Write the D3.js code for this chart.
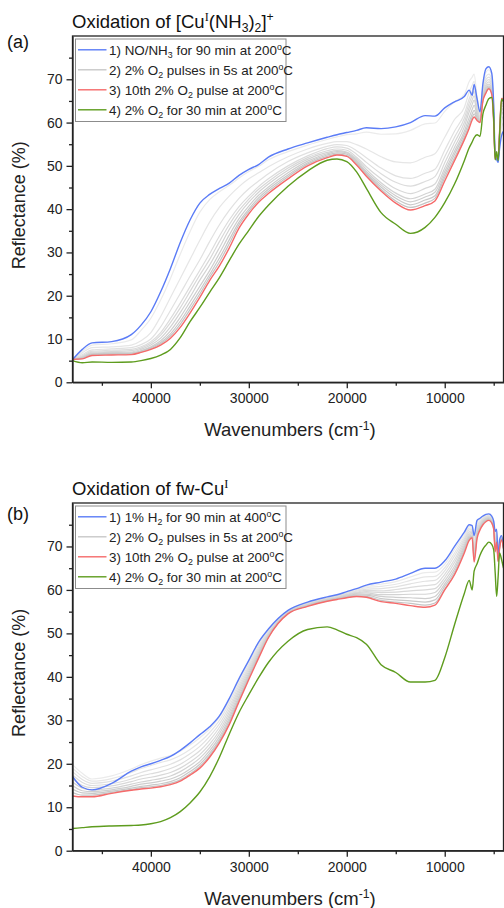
<!DOCTYPE html>
<html>
<head>
<meta charset="utf-8">
<script src="https://cdn.jsdelivr.net/npm/d3@7"></script>
<style>
  body { margin: 0; background: #fff; }
  svg { display: block; font-family: "Liberation Sans", Arial, sans-serif; }
  text { white-space: pre; }
</style>
</head>
<body>
<svg id="chart" width="504" height="908"></svg>
<script>
// shared wavenumber grid (cm-1)
const wavenumbers = [48000, 47000, 46000, 44000, 42000, 41000, 40000, 39000, 38000, 37000,
  36000, 35000, 34000, 33000, 32000, 31000, 30000, 29000, 28000, 26000,
  24000, 22000, 21000, 20000, 19000, 18000, 16500, 15000, 13500, 12000,
  11000, 10000, 9000, 8000, 7500, 7200, 7000, 6700, 6400, 6100,
  5800, 5500, 5200, 5000, 4850, 4700, 4550, 4400, 4200, 4000]

// panel (a)
const aBlue = [5.2, 7.6, 9.1, 9.4, 11.0, 13.2, 16.3, 20.9, 26.3, 32.3,
  37.5, 41.4, 43.4, 44.8, 46.0, 47.8, 49.2, 50.3, 52.0, 53.9,
  55.3, 56.6, 57.2, 57.7, 58.2, 58.8, 58.6, 59.0, 60.0, 61.6,
  61.5, 63.4, 64.8, 66.0, 67.5, 66.3, 68.8, 65.5, 62.5, 69.0,
  72.4, 72.9, 71.4, 64.0, 52.5, 51.5, 50.8, 54.0, 57.0, 58.0]
const aRed = [5.3, 5.4, 6.2, 6.3, 6.4, 6.9, 7.6, 8.6, 10.2, 12.7,
  16.0, 19.6, 23.5, 26.9, 31.0, 35.6, 38.9, 41.6, 43.6, 47.0,
  50.0, 51.9, 52.5, 52.2, 50.2, 47.6, 44.2, 41.4, 39.8, 40.8,
  41.9, 46.5, 51.2, 56.0, 58.7, 60.6, 61.3, 60.5, 60.0, 65.0,
  66.8, 67.8, 66.5, 60.0, 51.5, 52.5, 51.5, 58.0, 65.6, 65.5]
const aGreen = [5.0, 4.5, 4.7, 4.6, 4.7, 5.0, 5.5, 6.3, 7.6, 10.3,
  14.0, 17.3, 20.8, 24.2, 28.1, 31.9, 35.1, 38.3, 40.9, 45.3,
  48.8, 51.3, 51.6, 51.0, 48.6, 44.8, 39.2, 36.5, 34.4, 35.8,
  38.1, 41.5, 45.8, 51.2, 54.2, 55.5, 56.5, 57.2, 56.8, 62.0,
  64.0, 65.5, 65.8, 61.0, 51.4, 53.3, 51.2, 57.0, 65.4, 64.8]
// O2 pulses 1..9, one row per wavenumber
const aPulseRows = [
  [5.3, 5.3, 5.3, 5.3, 5.3, 5.3, 5.3, 5.3, 5.3],
  [7.2, 6.8, 6.4, 6.1, 5.9, 5.8, 5.7, 5.6, 5.5],
  [8.6, 8.0, 7.5, 7.2, 7.0, 6.8, 6.6, 6.5, 6.4],
  [8.9, 8.2, 7.7, 7.4, 7.1, 6.9, 6.7, 6.6, 6.5],
  [9.8, 8.6, 8.0, 7.6, 7.3, 7.0, 6.8, 6.7, 6.5],
  [12.0, 9.6, 8.7, 8.2, 7.9, 7.6, 7.3, 7.2, 7.0],
  [14.8, 11.5, 10.0, 9.4, 9.0, 8.6, 8.2, 8.0, 7.8],
  [19.0, 15.2, 12.8, 11.5, 10.9, 10.2, 9.6, 9.2, 8.9],
  [24.0, 19.6, 16.6, 14.7, 13.8, 12.8, 11.9, 11.2, 10.7],
  [29.6, 24.0, 20.5, 18.3, 17.2, 16.1, 15.0, 14.1, 13.4],
  [34.8, 28.4, 24.5, 22.1, 21.0, 19.7, 18.6, 17.6, 16.8],
  [39.3, 32.8, 28.3, 25.9, 24.8, 23.6, 22.2, 21.2, 20.4],
  [42.2, 37.0, 32.5, 29.7, 28.4, 27.1, 25.8, 24.9, 24.2],
  [44.0, 40.4, 36.4, 33.8, 32.5, 31.1, 29.8, 28.7, 27.8],
  [45.5, 43.0, 39.7, 37.5, 36.4, 35.3, 34.0, 32.9, 32.0],
  [47.2, 45.2, 42.5, 40.6, 39.7, 38.8, 37.8, 37.0, 36.4],
  [48.7, 47.0, 44.7, 43.0, 42.3, 41.6, 40.7, 40.0, 39.5],
  [49.9, 48.4, 46.5, 45.2, 44.6, 43.9, 43.2, 42.6, 42.1],
  [51.4, 49.8, 48.2, 47.0, 46.4, 45.8, 45.1, 44.6, 44.1],
  [53.3, 52.1, 51.0, 50.0, 49.5, 49.0, 48.4, 47.9, 47.5],
  [54.8, 53.9, 53.0, 52.3, 51.9, 51.5, 51.1, 50.7, 50.4],
  [56.1, 55.2, 54.5, 54.0, 53.5, 53.1, 52.8, 52.5, 52.2],
  [56.7, 55.6, 54.9, 54.4, 53.9, 53.5, 53.3, 53.0, 52.7],
  [57.2, 55.6, 54.7, 54.1, 53.6, 53.2, 53.0, 52.7, 52.4],
  [57.4, 54.9, 53.5, 52.7, 52.0, 51.6, 51.2, 50.9, 50.6],
  [57.8, 53.9, 51.9, 50.8, 49.8, 49.2, 48.7, 48.3, 48.0],
  [57.3, 52.1, 49.5, 48.2, 47.0, 46.1, 45.6, 45.1, 44.6],
  [57.4, 50.9, 47.7, 46.2, 44.7, 43.7, 43.1, 42.5, 41.9],
  [58.2, 50.7, 47.1, 45.3, 43.6, 42.4, 41.7, 41.0, 40.4],
  [59.7, 52.0, 48.3, 46.4, 44.8, 43.5, 42.8, 42.1, 41.4],
  [59.9, 52.8, 49.2, 47.5, 45.8, 44.6, 43.9, 43.1, 42.5],
  [62.6, 56.6, 53.6, 52.1, 50.7, 49.5, 48.7, 48.0, 47.3],
  [64.8, 60.7, 58.0, 56.6, 55.4, 54.3, 53.4, 52.7, 51.9],
  [66.5, 63.5, 62.0, 61.0, 60.0, 59.0, 58.0, 57.3, 56.6],
  [69.5, 67.0, 65.5, 64.5, 63.5, 62.5, 61.2, 60.2, 59.4],
  [70.5, 68.6, 67.2, 66.2, 65.2, 64.2, 63.0, 62.0, 61.2],
  [71.2, 69.5, 68.2, 67.2, 66.2, 65.2, 64.0, 62.8, 62.0],
  [66.0, 65.0, 64.3, 63.6, 63.0, 62.4, 61.8, 61.2, 60.8],
  [62.5, 62.0, 61.5, 61.2, 60.8, 60.6, 60.4, 60.2, 60.1],
  [68.5, 68.0, 67.5, 67.0, 66.6, 66.2, 65.8, 65.5, 65.2],
  [71.6, 70.6, 69.9, 69.3, 68.7, 68.2, 67.8, 67.4, 67.1],
  [72.2, 71.2, 70.5, 69.9, 69.4, 68.9, 68.5, 68.2, 68.0],
  [70.8, 70.0, 69.4, 68.8, 68.3, 67.8, 67.4, 67.0, 66.7],
  [63.5, 63.0, 62.5, 62.0, 61.6, 61.2, 60.8, 60.5, 60.2],
  [52.3, 52.2, 52.0, 51.9, 51.8, 51.7, 51.6, 51.6, 51.5],
  [51.8, 52.0, 52.1, 52.2, 52.3, 52.3, 52.4, 52.4, 52.5],
  [51.0, 51.1, 51.2, 51.3, 51.3, 51.4, 51.4, 51.5, 51.5],
  [55.0, 55.5, 56.0, 56.4, 56.8, 57.1, 57.4, 57.7, 57.9],
  [59.0, 60.5, 61.8, 62.8, 63.5, 64.1, 64.6, 65.0, 65.3],
  [60.0, 61.5, 62.5, 63.3, 64.0, 64.5, 64.9, 65.2, 65.4]
]

// panel (b)
const bBlue = [17.1, 14.6, 14.0, 15.5, 18.3, 19.3, 20.0, 20.8, 21.7, 23.1,
  24.8, 26.7, 28.5, 31.0, 35.0, 39.6, 43.8, 48.0, 51.0, 55.3,
  57.2, 58.4, 58.9, 59.6, 60.3, 61.1, 61.8, 62.5, 63.8, 65.0,
  65.0, 66.7, 70.0, 73.3, 75.0, 74.8, 72.5, 76.0, 76.5, 77.0,
  77.4, 77.5, 77.0, 75.8, 73.5, 74.0, 67.5, 71.5, 72.5, 70.0]
const bRed = [12.6, 12.4, 12.4, 13.2, 13.9, 14.2, 14.4, 14.7, 15.2, 16.0,
  17.4, 19.0, 21.5, 24.8, 29.0, 34.3, 39.4, 44.3, 49.0, 54.5,
  56.2, 57.4, 57.8, 58.2, 58.5, 58.3, 57.3, 56.9, 56.4, 56.0,
  56.5, 60.0, 63.5, 68.5, 71.4, 72.0, 66.4, 71.8, 73.8, 75.0,
  75.7, 76.0, 75.4, 74.0, 68.8, 71.0, 66.5, 69.5, 71.5, 69.5]
const bGreen = [5.1, 5.3, 5.5, 5.7, 5.8, 5.9, 6.2, 6.7, 7.6, 9.0,
  11.0, 13.5, 17.0, 21.5, 26.8, 31.8, 35.9, 39.8, 43.3, 48.2,
  50.9, 51.5, 50.8, 49.8, 49.0, 47.5, 42.8, 41.0, 38.8, 38.8,
  39.2, 44.4, 52.0, 59.2, 62.2, 60.0, 64.3, 66.0, 68.0, 69.4,
  70.3, 71.0, 70.5, 69.2, 64.0, 58.5, 63.0, 68.5, 67.0, 65.0]
const bPulseRows = [
  [19.8, 19.0, 18.2, 17.4, 16.6, 15.8, 15.0, 14.2, 13.4],
  [17.8, 17.1, 16.4, 15.7, 15.0, 14.4, 13.8, 13.3, 12.8],
  [16.5, 16.0, 15.5, 15.0, 14.5, 14.0, 13.6, 13.2, 12.8],
  [17.2, 16.6, 16.0, 15.4, 14.9, 14.4, 14.0, 13.7, 13.4],
  [18.8, 18.0, 17.2, 16.5, 15.9, 15.3, 14.8, 14.4, 14.1],
  [19.8, 18.9, 18.0, 17.2, 16.5, 15.8, 15.3, 14.8, 14.5],
  [20.6, 19.6, 18.6, 17.7, 16.9, 16.2, 15.6, 15.1, 14.7],
  [21.3, 20.3, 19.2, 18.2, 17.4, 16.6, 16.0, 15.4, 15.0],
  [21.9, 20.9, 19.9, 18.9, 18.0, 17.2, 16.5, 15.9, 15.5],
  [22.9, 21.9, 20.9, 19.9, 19.0, 18.2, 17.4, 16.8, 16.3],
  [24.3, 23.3, 22.3, 21.3, 20.4, 19.6, 18.8, 18.2, 17.7],
  [26.0, 25.0, 24.0, 23.0, 22.1, 21.3, 20.5, 19.9, 19.4],
  [28.0, 27.2, 26.3, 25.4, 24.5, 23.7, 23.0, 22.4, 21.9],
  [30.7, 30.0, 29.2, 28.4, 27.6, 26.9, 26.2, 25.6, 25.2],
  [34.5, 33.9, 33.2, 32.5, 31.8, 31.1, 30.5, 29.9, 29.4],
  [39.1, 38.6, 38.0, 37.4, 36.8, 36.2, 35.6, 35.1, 34.7],
  [43.4, 42.9, 42.4, 41.9, 41.4, 40.9, 40.4, 40.0, 39.7],
  [47.6, 47.2, 46.8, 46.4, 46.0, 45.6, 45.2, 44.9, 44.6],
  [50.8, 50.6, 50.4, 50.1, 49.9, 49.7, 49.5, 49.3, 49.1],
  [55.2, 55.1, 55.0, 54.9, 54.9, 54.8, 54.7, 54.6, 54.6],
  [57.1, 57.0, 56.9, 56.8, 56.7, 56.6, 56.5, 56.4, 56.3],
  [58.3, 58.2, 58.1, 58.0, 57.9, 57.8, 57.7, 57.6, 57.5],
  [58.8, 58.7, 58.6, 58.5, 58.3, 58.2, 58.1, 58.0, 57.9],
  [59.5, 59.3, 59.2, 59.0, 58.9, 58.8, 58.6, 58.5, 58.3],
  [60.1, 59.9, 59.7, 59.5, 59.3, 59.2, 59.0, 58.8, 58.6],
  [60.8, 60.5, 60.2, 59.9, 59.6, 59.3, 59.0, 58.8, 58.5],
  [61.3, 60.8, 60.3, 59.8, 59.4, 58.9, 58.5, 58.0, 57.6],
  [61.9, 61.3, 60.7, 60.1, 59.5, 58.9, 58.3, 57.7, 57.2],
  [63.0, 62.2, 61.4, 60.6, 59.8, 59.0, 58.2, 57.5, 56.9],
  [64.0, 63.0, 62.0, 61.0, 60.0, 59.0, 58.0, 57.2, 56.5],
  [64.1, 63.1, 62.2, 61.2, 60.3, 59.4, 58.5, 57.7, 57.0],
  [65.9, 65.1, 64.4, 63.6, 62.8, 62.1, 61.4, 60.8, 60.2],
  [69.3, 68.5, 67.8, 67.0, 66.3, 65.5, 64.8, 64.2, 63.7],
  [72.8, 72.3, 71.8, 71.3, 70.8, 70.3, 69.8, 69.3, 68.9],
  [74.6, 74.2, 73.8, 73.4, 73.0, 72.6, 72.3, 72.0, 71.7],
  [74.5, 74.2, 73.9, 73.6, 73.3, 73.0, 72.7, 72.4, 72.2],
  [71.9, 71.2, 70.5, 69.8, 69.2, 68.6, 68.0, 67.4, 66.9],
  [75.6, 75.1, 74.7, 74.2, 73.8, 73.4, 73.0, 72.6, 72.2],
  [76.2, 75.9, 75.6, 75.3, 75.0, 74.7, 74.4, 74.2, 74.0],
  [76.8, 76.6, 76.4, 76.2, 76.0, 75.8, 75.6, 75.4, 75.2],
  [77.2, 77.0, 76.8, 76.7, 76.5, 76.4, 76.2, 76.0, 75.9],
  [77.3, 77.2, 77.0, 76.9, 76.7, 76.6, 76.4, 76.3, 76.1],
  [76.8, 76.6, 76.5, 76.3, 76.2, 76.0, 75.8, 75.7, 75.5],
  [75.6, 75.4, 75.2, 75.0, 74.8, 74.7, 74.5, 74.3, 74.1],
  [73.0, 72.5, 72.0, 71.4, 70.9, 70.4, 69.9, 69.5, 69.1],
  [73.7, 73.4, 73.0, 72.7, 72.4, 72.1, 71.8, 71.5, 71.2],
  [67.4, 67.3, 67.2, 67.1, 67.0, 66.9, 66.8, 66.7, 66.6],
  [71.3, 71.1, 70.9, 70.6, 70.4, 70.2, 70.0, 69.8, 69.6],
  [72.4, 72.3, 72.2, 72.1, 72.0, 71.9, 71.8, 71.7, 71.6],
  [69.9, 69.9, 69.8, 69.8, 69.7, 69.7, 69.6, 69.6, 69.5]
]

// ticks
const xMajorTicks = [40000, 30000, 20000, 10000]
const xMinorTicks = [45000, 35000, 25000, 15000, 5000]
const yMajorTicks = [0, 10, 20, 30, 40, 50, 60, 70]
const yMinorTicks = [5, 15, 25, 35, 45, 55, 65, 75]

// text pieces: [string, kind]
const titleA = [["Oxidation of [Cu"], ["I", "supI"], ["(NH"], ["3", "sub"], [")"], ["2", "sub"], ["]"], ["+", "sup"]]
const titleB = [["Oxidation of fw-Cu"], ["I", "supI"]]
const legendA = [
  [["1) NO/NH"], ["3", "sub"], [" for 90 min at 200"], ["o", "sup"], ["C"]],
  [["2) 2% O"], ["2", "sub"], [" pulses in 5s at 200"], ["o", "sup"], ["C"]],
  [["3) 10th 2% O"], ["2", "sub"], [" pulse at 200"], ["o", "sup"], ["C"]],
  [["4) 2% O"], ["2", "sub"], [" for 30 min at 200"], ["o", "sup"], ["C"]]
]
const legendB = [
  [["1) 1% H"], ["2", "sub"], [" for 90 min at 400"], ["o", "sup"], ["C"]],
  [["2) 2% O"], ["2", "sub"], [" pulses in 5s at 200"], ["o", "sup"], ["C"]],
  [["3) 10th 2% O"], ["2", "sub"], [" pulse at 200"], ["o", "sup"], ["C"]],
  [["4) 2% O"], ["2", "sub"], [" for 30 min at 200"], ["o", "sup"], ["C"]]
]

const blue = "#5b7cf6", red = "#f56a6a", green = "#5e9c1e", legendGray = "#c8c8c8"
const grayShade = d3.interpolateRgb("#ebebeb", "#c4c4c4")

const svg = d3.select("#chart")
const left = 72.5, right = 503.5

function addRich(sel, parts, size) {
  let shift = 0
  parts.forEach(([str, kind]) => {
    let target = 0
    if (kind == "sup" || kind == "supI") target = -0.36 * size
    if (kind == "sub") target = 0.24 * size
    const ts = sel.append("tspan").attr("dy", target - shift).text(str)
    if (kind) ts.attr("font-size", size * 0.66)
    if (kind == "supI") ts.attr("font-family", '"Liberation Serif", serif')
    shift = target
  })
}

function drawPanel(p) {
  const x = d3.scaleLinear().domain([48000, 4000]).range([left, right])
  const y = d3.scaleLinear().domain([0, 80]).range([p.bottom, p.top])
  const g = svg.append("g")

  g.append("clipPath").attr("id", "clip-" + p.id)
    .append("rect")
    .attr("x", left).attr("y", p.top)
    .attr("width", right - left).attr("height", p.bottom - p.top)

  const line = d3.line()
    .x((v, i) => x(wavenumbers[i]))
    .y(v => y(v))
    .curve(d3.curveMonotoneX)

  const curves = g.append("g").attr("clip-path", `url(#clip-${p.id})`)
    .attr("fill", "none")

  const pulses = d3.range(9).map(k => p.pulses.map(r => r[k]))
  curves.selectAll(".pulse")
    .data(pulses)
    .enter()
    .append("path")
    .attr("class", "pulse")
    .attr("d", d => line(d))
    .attr("stroke", (d, i) => grayShade(i / 8))
    .attr("stroke-width", 1.2)

  const main = [[p.blue, blue], [p.red, red], [p.green, green]]
  main.forEach(([vals, col]) => {
    curves.append("path")
      .attr("d", line(vals))
      .attr("stroke", col)
      .attr("stroke-width", 1.4)
  })

  // axes
  const fontFam = '"Liberation Sans", Arial, sans-serif'
  const xAxis = g.append("g")
    .attr("transform", `translate(0,${p.bottom})`)
    .call(d3.axisBottom(x).tickValues(xMajorTicks).tickSize(6).tickSizeOuter(0).tickPadding(5).tickFormat(d3.format("d")))
  g.append("g")
    .attr("transform", `translate(0,${p.bottom})`)
    .call(d3.axisBottom(x).tickValues(xMinorTicks).tickSize(3.5).tickFormat(""))
    .call(s => s.select(".domain").remove())
  const yAxis = g.append("g")
    .attr("transform", `translate(${left},0)`)
    .call(d3.axisLeft(y).tickValues(yMajorTicks).tickSize(6).tickSizeOuter(0).tickPadding(4))
  g.append("g")
    .attr("transform", `translate(${left},0)`)
    .call(d3.axisLeft(y).tickValues(yMinorTicks).tickSize(3.5).tickFormat(""))
    .call(s => s.select(".domain").remove())

  g.selectAll(".tick line, .domain").attr("stroke", "#222").attr("stroke-width", 1.3)
  ;[xAxis, yAxis].forEach(a => a.attr("font-size", 14).attr("font-family", fontFam)
    .selectAll("text").attr("fill", "#222"))

  g.append("rect")
    .attr("x", left).attr("y", p.top)
    .attr("width", right - left).attr("height", p.bottom - p.top)
    .attr("fill", "none").attr("stroke", "#222").attr("stroke-width", 1.3)

  // axis titles
  const xt = g.append("text")
    .attr("x", (left + right) / 2 + 2).attr("y", p.bottom + 54)
    .attr("text-anchor", "middle").attr("font-size", 18.5).attr("fill", "#222")
  addRich(xt, [["Wavenumbers (cm"], ["-1", "sup"], [")"]], 18.5)

  g.append("text")
    .attr("transform", `translate(24.5,${(p.top + p.bottom) / 2 - 4}) rotate(-90)`)
    .attr("text-anchor", "middle").attr("font-size", 18).attr("fill", "#222")
    .text("Reflectance (%)")

  // title and panel label
  const tt = g.append("text")
    .attr("x", 72).attr("y", p.top - 8)
    .attr("font-size", 18.5).attr("fill", "#111")
  addRich(tt, p.title, 18.5)

  g.append("text")
    .attr("x", 7).attr("y", p.labelY)
    .attr("font-size", 18).attr("fill", "#111")
    .text(p.label)

  // legend
  const lg = g.append("g").attr("transform", `translate(75.5,${p.top + 3})`)
  lg.append("rect")
    .attr("width", 210.5).attr("height", 82.5)
    .attr("fill", "#fff").attr("stroke", "#8c8c8c").attr("stroke-width", 1)
  const legendColors = [blue, legendGray, red, green]
  p.legend.forEach((parts, i) => {
    const ry = 10.8 + 20 * i
    lg.append("line")
      .attr("x1", 2.5).attr("x2", 31).attr("y1", ry).attr("y2", ry)
      .attr("stroke", legendColors[i]).attr("stroke-width", 1.4)
    const t = lg.append("text")
      .attr("x", 33.5).attr("y", ry + 4.8)
      .attr("font-size", 13.4).attr("fill", "#222")
    addRich(t, parts, 13.4)
  })
}

drawPanel({ id: "a", top: 36, bottom: 382.3, blue: aBlue, red: aRed, green: aGreen,
  pulses: aPulseRows, title: titleA, legend: legendA, label: "(a)", labelY: 48 })
drawPanel({ id: "b", top: 503, bottom: 850.7, blue: bBlue, red: bRed, green: bGreen,
  pulses: bPulseRows, title: titleB, legend: legendB, label: "(b)", labelY: 519.5 })
</script>
</body>
</html>
